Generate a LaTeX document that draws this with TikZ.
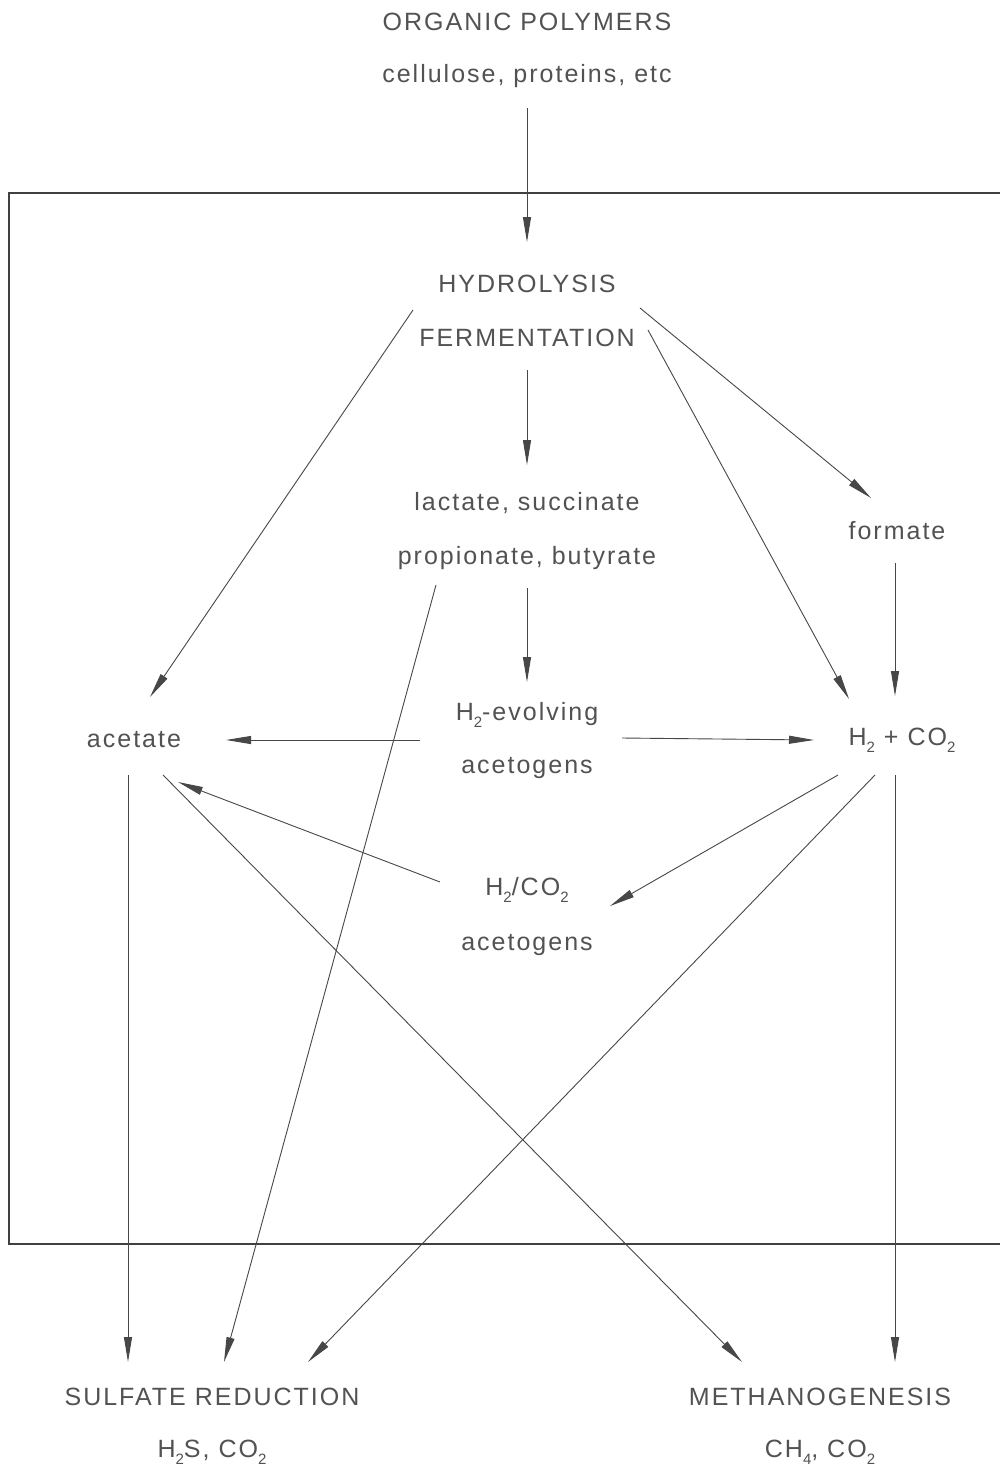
\documentclass[tikz,border=0pt]{standalone}
\usepackage{fontspec}
\setmainfont{Liberation Sans}
\usetikzlibrary{arrows.meta}
\newcommand\dn[1]{\raisebox{-0.55ex}{\fontsize{15}{15}\selectfont #1}}
\tikzset{
  lbl/.style={text=black!68, inner sep=0pt, font=\fontsize{25}{25}\selectfont\addfontfeature{LetterSpace=8}},
  arr/.style={draw=black!72, line width=0.9pt, -{Triangle[length=25pt,width=8pt]}},
  frame/.style={draw=black!75, line width=1.2pt}
}
\begin{document}
\begin{tikzpicture}[x=1pt,y=-1pt]
\useasboundingbox (0,0) rectangle (1000,1472);
\fill[white] (0,0) rectangle (1000,1472);
% frame
\draw[frame] (1000,193) -- (9,193) -- (9,1244) -- (1000,1244);
% text nodes
\node[lbl] (org) at (527,22) {ORGANIC POLYMERS};
\node[lbl] (cel) at (527,76) {cellulose, proteins, etc};
\node[lbl] (hyd) at (527,284) {HYDROLYSIS};
\node[lbl] (fer) at (527,338) {FERMENTATION};
\node[lbl] (lac) at (527,503) {lactate, succinate};
\node[lbl] (pro) at (527,558) {propionate, butyrate};
\node[lbl] (frm) at (897,531) {formate};
\node[lbl] (hev) at (527,715) {H\dn{2}-evolving};
\node[lbl] (ace1) at (527,768) {acetogens};
\node[lbl] (act) at (134,740) {acetate};
\node[lbl] (hco) at (902,740) {H\dn{2} + CO\dn{2}};
\node[lbl] (hca) at (527,890) {H\dn{2}/CO\dn{2}};
\node[lbl] (ace2) at (527,945) {acetogens};
\node[lbl] (sul) at (212,1397) {SULFATE REDUCTION};
\node[lbl] (sulp) at (212,1452) {H\dn{2}S, CO\dn{2}};
\node[lbl] (met) at (820,1397) {METHANOGENESIS};
\node[lbl] (metp) at (820,1452) {CH\dn{4}, CO\dn{2}};
% endpoints
\coordinate (c1a) at (527,108);  \coordinate (c1b) at (527,242);
\coordinate (c2a) at (413,310);  \coordinate (c2b) at (150,697);
\coordinate (c3a) at (640,308);  \coordinate (c3b) at (871,498);
\coordinate (c4a) at (648,330);  \coordinate (c4b) at (849,699);
\coordinate (c5a) at (895,563);  \coordinate (c5b) at (895,696);
\coordinate (c6a) at (527,370);  \coordinate (c6b) at (527,465);
\coordinate (c7a) at (527,588);  \coordinate (c7b) at (527,682);
\coordinate (c8a) at (420,740);  \coordinate (c8b) at (226,740);
\coordinate (c9a) at (622,738);  \coordinate (c9b) at (814,740);
\coordinate (c10a) at (440,882); \coordinate (c10b) at (178,782);
\coordinate (c11a) at (838,775); \coordinate (c11b) at (610,906);
\coordinate (c12a) at (128,775); \coordinate (c12b) at (128,1362);
\coordinate (c13a) at (163,775); \coordinate (c13b) at (742,1362);
\coordinate (c14a) at (436,585); \coordinate (c14b) at (224,1362);
\coordinate (c15a) at (875,775); \coordinate (c15b) at (308,1362);
\coordinate (c16a) at (895,775); \coordinate (c16b) at (895,1362);
% connectors
\draw[arr] (c1a) -- (c1b);
\draw[arr] (c2a) -- (c2b);
\draw[arr] (c3a) -- (c3b);
\draw[arr] (c4a) -- (c4b);
\draw[arr] (c5a) -- (c5b);
\draw[arr] (c6a) -- (c6b);
\draw[arr] (c7a) -- (c7b);
\draw[arr] (c8a) -- (c8b);
\draw[arr] (c9a) -- (c9b);
\draw[arr] (c10a) -- (c10b);
\draw[arr] (c11a) -- (c11b);
\draw[arr] (c12a) -- (c12b);
\draw[arr] (c13a) -- (c13b);
\draw[arr] (c14a) -- (c14b);
\draw[arr] (c15a) -- (c15b);
\draw[arr] (c16a) -- (c16b);
\end{tikzpicture}
\end{document}
